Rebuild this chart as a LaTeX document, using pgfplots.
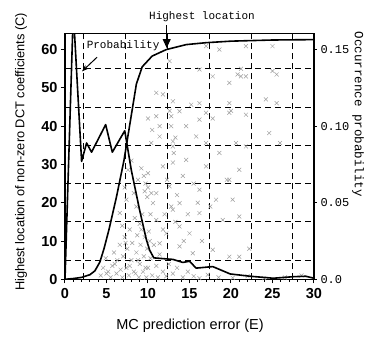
\documentclass[border=0pt]{standalone}
\usepackage{fontspec}
\setmainfont{Liberation Sans}
\newfontfamily\mono{Liberation Mono}
\usepackage{pgfplots}
\pgfplotsset{compat=1.18}
\usetikzlibrary{arrows.meta}
\begin{document}
\begin{tikzpicture}
\path[use as bounding box] (-65pt,-58.7pt) rectangle (307pt,279.3pt);
\begin{axis}[
  scale only axis, width=249pt, height=245.8pt,
  xmin=0, xmax=30, ymin=0, ymax=64.2,
  clip=true,
  axis line style={line width=1.5pt},
  xtick={0,5,...,30}, ytick={0,10,...,60},
  xtick pos=bottom, ytick pos=left,
  minor x tick num=4,
  tick align=outside,
  major tick length=4pt, minor tick length=2.5pt,
  tick style={black, line width=1pt},
  /pgf/number format/assume math mode=true,
  ticklabel style={font=\bfseries\fontsize{14.5}{14.5}\selectfont},
  xticklabel style={yshift=-2pt},
  extra x ticks={2.2,7.25,12.35,17.45,22.5,27.45},
  extra x tick labels={},
  extra y ticks={5,15,25,35,45,55},
  extra y tick labels={},
  extra tick style={grid=major, major tick length=0pt,
    major grid style={black, line width=0.8pt, dash pattern=on 6pt off 4pt}},
]
\addplot[only marks, mark=x, mark size=2.8pt, gray!75, mark options={line width=0.5pt}] table {
4.3 1
4.6 3
4.9 5.5
5.2 2
5.5 0.5
5.7 3.5
5.9 7
6.2 1.5
6.3 5
6.6 9
6.7 2.5
6.9 0.5
7.0 6
7.2 11
7.4 3
7.5 8
7.7 1
7.8 13
8.0 5
8.1 9.5
8.3 2
8.4 16
8.6 7
8.7 11.5
8.9 0.5
9.0 4
9.1 9
9.2 13
9.4 2
9.5 6
9.6 11
9.8 0.5
9.9 8
10.0 3
10.1 12.5
10.3 5.5
10.5 1
10.7 9
11.0 3.5
11.2 0.5
11.4 6.5
11.8 2
12.2 0.8
12.5 4
13.0 1.5
13.5 3
14.2 0.5
14.8 2
15.5 0.8
16.2 0.3
17.2 1.2
18.5 0.5
20.2 0.4
22 0.8
24 0.3
26.5 0.5
28.5 1
5.0 1.5
6.0 4
7.8 3.5
8.5 1.5
9.7 3
10.2 10
8.8 5
7.3 9.5
6.9 14
9.3 17
9.7 25
13.3 37
13.1 33
12.6 44
20.0 44
21.2 53
6.6 17.3
7.4 20.8
7.2 24
7.6 28.6
8.0 31
8.6 19
8.3 22.5
9.0 14.5
8.8 26
9.2 29
9.5 27
9.6 23
9.9 21.5
10.0 24
10.3 17
10.6 19.9
10.4 22.5
10.0 27.7
10.4 35.6
10.0 42
10.5 39
11.0 15.5
11.0 22.5
11.0 42.6
11.0 48.7
11.4 37.3
11.4 40
11.4 9.4
11.8 29.5
11.8 48.3
11.8 13
12.0 17
12.2 12
12.3 26
12.6 24.3
12.6 57
12.8 40
12.8 42.6
12.8 19
13.0 18.2
13.0 34.7
13.0 36
13.0 46.5
13.0 30.5
13.3 15
13.5 22
13.8 13.8
13.8 19.9
13.8 43.9
13.8 8.6
14.2 27
14.3 10
14.6 31.2
14.6 40
14.8 17
15.0 12
15.2 45.6
15.4 6.8
15.5 25
15.8 37.3
16.0 20
16.2 17.3
16.2 23.4
16.2 41.7
16.2 46
16.2 54.8
16.5 10
17.0 29.5
17.0 35.6
17.0 43.5
17.0 60.9
17.5 19
17.8 7.7
17.8 42
17.8 53
18.2 20.8
18.6 33
18.6 60
19.0 15.5
19.5 26
19.8 5.9
19.8 26
19.8 43.5
19.8 46
19.8 51.3
20.2 20.8
20.6 35.6
20.8 53.5
21.0 5.9
21.0 16.4
21.0 28.6
21.2 55
21.8 34.7
21.8 43
21.8 53
21.8 60.9
22.2 8
24.2 47
24.6 38.2
25.0 54.4
25.0 60.9
25.5 46
25.5 53.5
25.9 35.6
};
\addplot[black, line width=1.6pt, line join=round] coordinates {
(0,0) (1,0.2) (2,0.5) (3,1.2) (3.6,2.2) (4.2,4.5) (4.7,8) (5.3,13) (6.2,21.5) (7.1,31)
(8,43) (8.6,51) (9.3,55.5) (10.5,58.3) (12.2,60) (14.6,61.3) (17,61.8) (20,62.2) (25,62.5) (30,62.6)
};
\node[font=\mono\fontsize{11}{11}\selectfont] at (axis cs:7.0,60.9) {Probability};
\draw[-{Stealth[length=7pt,width=5pt]}, line width=1pt] (axis cs:3.86,58) -- (axis cs:2.05,54.3);
\end{axis}
\begin{axis}[
  scale only axis, width=249pt, height=245.8pt,
  xmin=0, xmax=30, ymin=0, ymax=0.1605,
  axis x line=none, axis y line*=right,
  axis line style={line width=1.5pt},
  ytick={0,0.05,0.10,0.15}, yticklabels={0.0,0.05,0.10,0.15},
  tick align=outside, major tick length=3pt,
  tick style={black, line width=1pt},
  yticklabel style={font=\mono\fontsize{12}{12}\selectfont},
  clip=true,
]
\addplot[black, line width=1.6pt, line join=round] coordinates {
(0,0) (1,0.175) (2,0.077) (2.6,0.089) (3.2,0.083) (4.9,0.101) (5.7,0.083) (7.2,0.097)
(8.0,0.071) (9.0,0.045) (9.8,0.026) (10.2,0.019) (10.7,0.014) (11.8,0.0135) (13.0,0.013)
(14.2,0.011) (15.0,0.0118) (15.8,0.0073) (17.8,0.0083) (19.9,0.0035) (22.3,0.002)
(25.1,0.0007) (27.5,0.0017) (29,0.002) (30,0.0007)
};
\end{axis}
\node[rotate=90, font=\fontsize{12.8}{12.8}\selectfont] at (-44pt,127.3pt) {Highest location of non-zero DCT coefficients (C)};
\node[rotate=-90, font=\mono\fontsize{12.5}{12.5}\selectfont] at (293pt,164.8pt) {Occurrence probability};
\node[font=\fontsize{14.5}{14.5}\selectfont] at (125pt,-46.7pt) {MC prediction error (E)};
\node[font=\mono\fontsize{11}{11}\selectfont] at (137pt,262.3pt) {Highest location};
\draw[-{Triangle[length=9pt,width=8pt]}, line width=1pt] (101.7pt,254.3pt) -- (101.7pt,231.3pt);
\end{tikzpicture}
\end{document}
